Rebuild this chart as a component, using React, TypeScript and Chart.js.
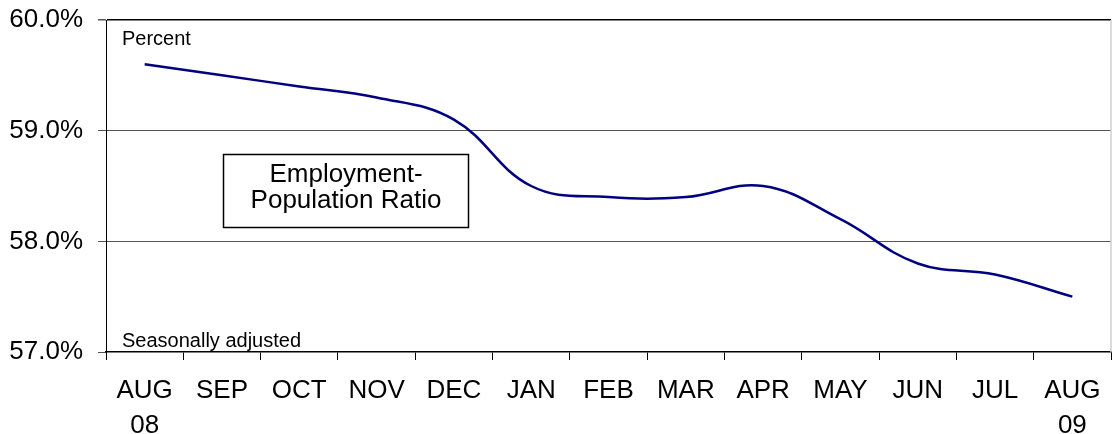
import React, { useEffect, useRef } from "react";
import { Chart, registerables } from "chart.js";

Chart.register(...registerables);

const months: string[][] = [
  ["AUG", "08"], ["SEP"], ["OCT"], ["NOV"], ["DEC"], ["JAN"], ["FEB"],
  ["MAR"], ["APR"], ["MAY"], ["JUN"], ["JUL"], ["AUG", "09"],
];
const ratio: number[] = [59.6, 59.5, 59.4, 59.3, 59.1, 58.5, 58.4, 58.4, 58.5, 58.2, 57.8, 57.7, 57.5];
const yMin = 57;
const yMax = 60;
const boxLines = ["Employment-", "Population Ratio"];
const unitLabel = "Percent";
const noteLabel = "Seasonally adjusted";

const FONT = '"Liberation Sans", Arial, sans-serif';

const overlay = {
  id: "overlay",
  afterDraw(chart: any) {
    const { ctx, chartArea } = chart;
    ctx.save();
    // right border
    ctx.strokeStyle = "#cfcfcf";
    ctx.lineWidth = 1.5;
    ctx.beginPath();
    ctx.moveTo(chartArea.right, chartArea.top);
    ctx.lineTo(chartArea.right, chartArea.bottom);
    ctx.stroke();
    // texts
    ctx.fillStyle = "#000";
    ctx.font = `20px ${FONT}`;
    ctx.textAlign = "left";
    ctx.textBaseline = "alphabetic";
    ctx.fillText(unitLabel, chartArea.left + 16, chartArea.top + 25);
    ctx.fillText(noteLabel, chartArea.left + 16, chartArea.bottom - 5);
    // box
    const bx = 223.5, by = 154.5, bw = 245, bh = 73;
    ctx.fillStyle = "#fff";
    ctx.fillRect(bx, by, bw, bh);
    ctx.strokeStyle = "#000";
    ctx.lineWidth = 1.5;
    ctx.strokeRect(bx, by, bw, bh);
    ctx.fillStyle = "#000";
    ctx.font = `26px ${FONT}`;
    ctx.textAlign = "center";
    ctx.textBaseline = "middle";
    ctx.fillText(boxLines[0], bx + bw / 2, by + 20);
    ctx.fillText(boxLines[1], bx + bw / 2, by + 46);
    ctx.restore();
  },
};

export default function App() {
  const ref = useRef<HTMLCanvasElement>(null);
  useEffect(() => {
    if (!ref.current) return;
    const chart = new Chart(ref.current, {
      type: "line",
      data: {
        labels: months,
        datasets: [
          {
            data: ratio,
            borderColor: "#000080",
            borderWidth: 2.5,
            pointRadius: 0,
            tension: 0.4,
            fill: false,
          },
        ],
      },
      options: {
        animation: false,
        responsive: false,
        layout: { padding: { top: 20, right: 1, left: 0, bottom: 0 } },
        plugins: { legend: { display: false }, tooltip: { enabled: false } },
        scales: {
          x: {
            type: "category",
            offset: true,
            afterFit: (s: any) => { s.height = 82; s.paddingLeft = 0; s.paddingRight = 0; },
            grid: {
              offset: true,
              drawOnChartArea: false,
              drawTicks: true,
              tickLength: 8,
              tickColor: "#000",
            },
            border: { color: "#000", width: 1.5 },
            ticks: {
              color: "#000",
              padding: 13,
              maxRotation: 0,
              autoSkip: false,
              font: { family: FONT, size: 26, lineHeight: 1.35 },
            },
          },
          y: {
            min: yMin,
            max: yMax,
            afterFit: (s: any) => { s.width = 106; s.paddingTop = 0; s.paddingBottom = 0; },
            grid: {
              color: (c: any) => (c.tick && c.tick.value === yMax ? "#000" : c.tick && c.tick.value === yMin ? "rgba(0,0,0,0)" : "#555"),
              lineWidth: (c: any) => (c.tick && c.tick.value === yMax ? 1.5 : 1),
              tickLength: 8,
              tickColor: "#555",
            },
            border: { color: "#000", width: 1 },
            ticks: {
              stepSize: 1,
              color: "#000",
              padding: 15,
              font: { family: FONT, size: 26 },
              callback: (v: any) => Number(v).toFixed(1) + "%",
            },
          },
        },
      },
      plugins: [overlay],
    });
    return () => chart.destroy();
  }, []);
  return (
    <div style={{ position: "absolute", left: 0, top: 0, width: 1112, height: 434, background: "#fff" }}>
      <canvas ref={ref} width={1112} height={434} />
    </div>
  );
}
